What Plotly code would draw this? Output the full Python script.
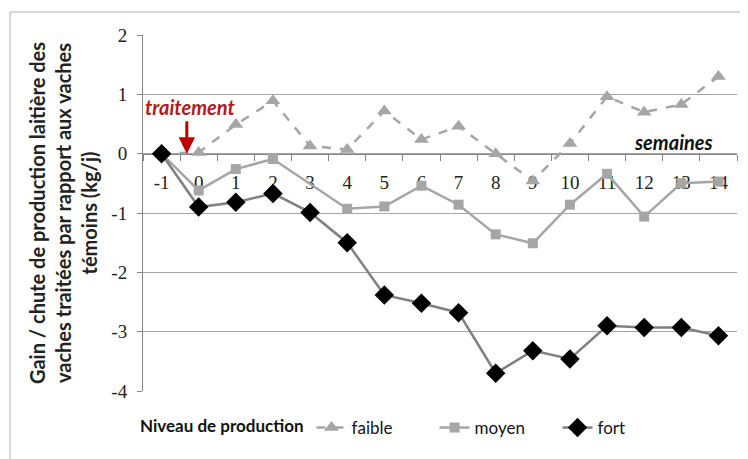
import plotly.graph_objects as go

semaines = ["-1", "0", "1", "2", "3", "4", "5", "6", "7", "8", "9", "10", "11", "12", "13", "14"]
faible = [0.0, 0.02, 0.49, 0.89, 0.13, 0.07, 0.72, 0.24, 0.46, 0.0, -0.46, 0.17, 0.96, 0.70, 0.83, 1.30]
moyen = [0.0, -0.62, -0.26, -0.09, None, -0.93, -0.89, -0.54, -0.86, -1.36, -1.51, -0.86, -0.34, -1.06, -0.50, -0.47]
fort = [0.0, -0.90, -0.82, -0.67, -0.99, -1.50, -2.38, -2.52, -2.68, -3.70, -3.32, -3.46, -2.90, -2.93, -2.93, -3.07]
y_ticks = [2, 1, 0, -1, -2, -3, -4]

TXT = "Lato"
NUM = "Liberation Serif"

# page body has an 8px margin: plot area kept at x 143..737, y 35..391 in the window
L, T = 135, 27
W, H = 740, 451
PW, PH = 594, 356


def px(x):
    return (x - 143) / PW


def py(y):
    return (391 - y) / PH


fig = go.Figure()
fig.add_trace(go.Scatter(
    x=semaines, y=faible, name="faible", mode="lines+markers",
    line=dict(color="#a6a6a6", width=2.5, dash="dash"),
    marker=dict(symbol="triangle-up", size=13, color="#a6a6a6"),
))
fig.add_trace(go.Scatter(
    x=semaines, y=moyen, name="moyen", mode="lines+markers", connectgaps=True,
    line=dict(color="#a6a6a6", width=2.5),
    marker=dict(symbol="square", size=10, color="#a6a6a6"),
))
fig.add_trace(go.Scatter(
    x=semaines, y=fort, name="fort", mode="lines+markers",
    line=dict(color="#808080", width=2.5),
    marker=dict(symbol="diamond", size=15, color="#000000"),
))

fig.update_layout(
    width=W, height=H,
    margin=dict(l=L, r=W - L - PW, t=T, b=H - T - PH, autoexpand=False),
    paper_bgcolor="white", plot_bgcolor="white",
    showlegend=True,
    legend=dict(
        orientation="h", x=px(138), xanchor="left", y=py(428), yanchor="middle",
        title=dict(text="<b>Niveau de production</b>", font=dict(family=TXT, size=17, color="#111")),
        font=dict(family=TXT, size=17, color="#111"),
        bgcolor="rgba(0,0,0,0)", entrywidth=78, entrywidthmode="pixels",
    ),
    xaxis=dict(
        type="category", categoryorder="array", categoryarray=semaines,
        range=[-0.5, 15.5], anchor="free", position=4 / 6,
        showline=True, linecolor="#868686", linewidth=1,
        ticks="outside", tickson="boundaries", ticklen=6, tickcolor="#868686",
        showgrid=False, zeroline=False, automargin=False,
        tickfont=dict(family=NUM, size=19, color="#222"),
        ticklabelstandoff=12, layer="below traces",
    ),
    yaxis=dict(
        range=[-4, 2], tickvals=y_ticks, ticktext=[str(v) for v in y_ticks],
        showline=True, linecolor="#868686", linewidth=1,
        ticks="outside", ticklen=5, tickcolor="#868686",
        showgrid=True, gridcolor="#a6a6a6", gridwidth=1, zeroline=False, automargin=False,
        tickfont=dict(family=NUM, size=19, color="#222"), ticklabelstandoff=6,
        title=dict(
            text="<b>Gain / chute de production laitière des<br>vaches traitées par rapport aux vaches<br>témoins (kg/j)</b>",
            font=dict(family=TXT, size=20, color="#222"), standoff=8,
        ),
    ),
    shapes=[dict(
        type="rect", xref="paper", yref="paper",
        x0=px(10), x1=px(760), y0=py(470), y1=py(12),
        line=dict(color="#b0b0b0", width=1), fillcolor="rgba(0,0,0,0)", layer="below",
    )],
    annotations=[
        dict(text="<b><i>traitement</i></b>", xref="paper", yref="paper",
             x=px(190), y=py(107), showarrow=False,
             font=dict(family=TXT, size=20, color="#b01c1c"), xanchor="center", yanchor="middle"),
        dict(text="", xref="x", yref="y", x=0.68, y=0.0, ax=0, ay=-34,
             showarrow=True, arrowhead=2, arrowsize=1.1, arrowwidth=3, arrowcolor="#c00000"),
        dict(text="<b><i>semaines</i></b>", xref="paper", yref="paper",
             x=px(673), y=py(142), showarrow=False,
             font=dict(family=TXT, size=20, color="#111"), xanchor="center", yanchor="middle"),
    ],
)

fig.write_html("out.html")
